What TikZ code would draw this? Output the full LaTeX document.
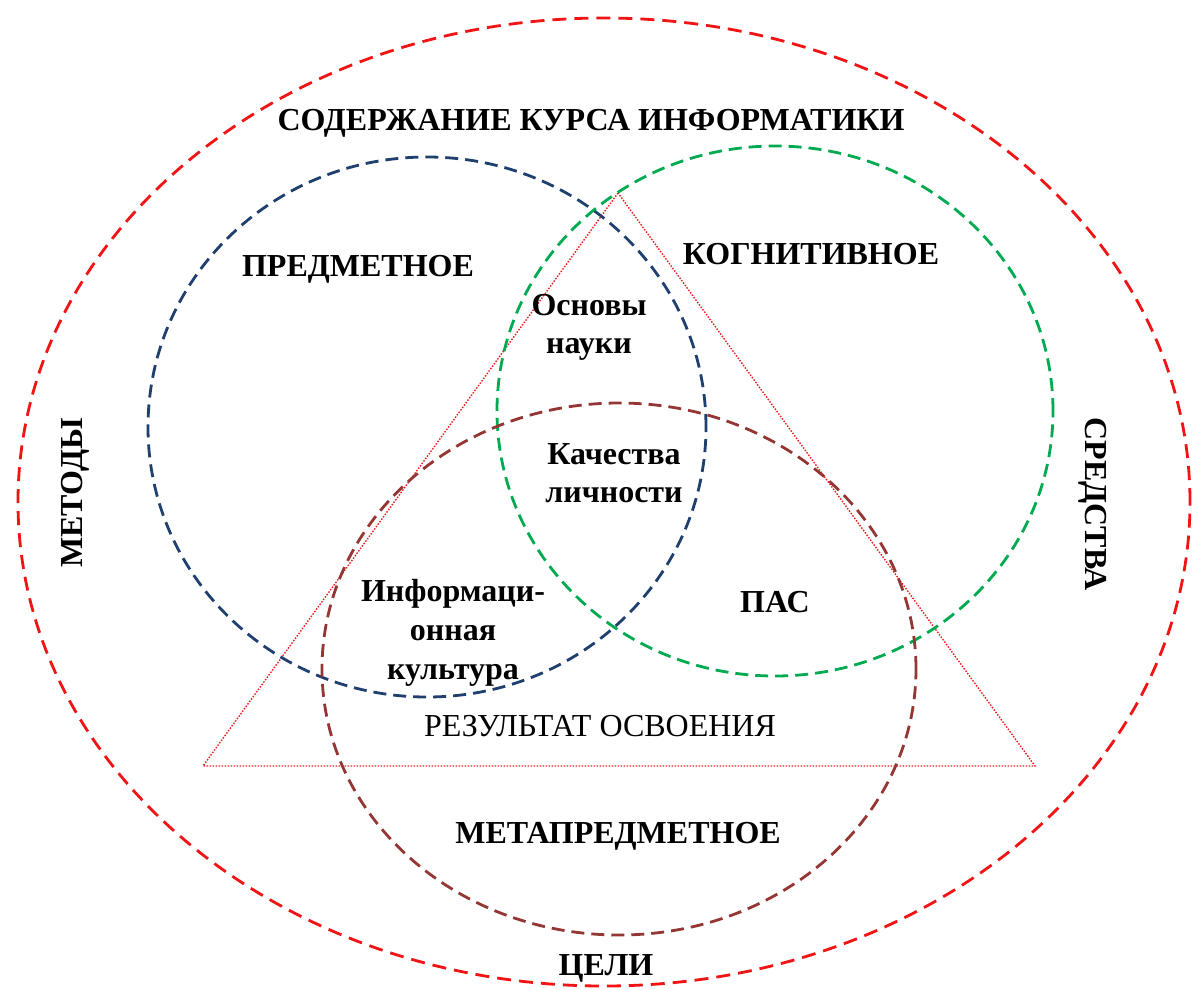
\documentclass[tikz,border=0pt]{standalone}
\usepackage{fontspec}
\setmainfont{Liberation Serif}
\definecolor{cred}{RGB}{240,20,20}
\definecolor{cblue}{RGB}{31,63,110}
\definecolor{cgreen}{RGB}{0,170,80}
\definecolor{cbrown}{RGB}{148,54,52}
\definecolor{ctri}{RGB}{235,30,30}
\tikzset{
  ring/.style={line width=2.8pt, dash pattern=on 13pt off 7pt},
  big/.style={font=\fontsize{32}{38}\selectfont\bfseries, align=center, inner sep=0pt},
  plain/.style={font=\fontsize{32}{38}\selectfont, align=center, inner sep=0pt},
  tri/.style={ctri, line width=1.4pt, dash pattern=on 1.5pt off 1.5pt}
}
\begin{document}
\begin{tikzpicture}[x=1pt,y=-1pt]
\useasboundingbox[fill=white] (0,0) rectangle (1192,989);
% outer ellipse
\draw[ring, cred, dash pattern=on 14pt off 8pt] (604,502) ellipse [x radius=586pt, y radius=484pt];
% triangle
\coordinate (ta) at (618,193);
\coordinate (tl) at (203,766);
\coordinate (tr) at (1035,766);
\draw[tri] (ta) -- (tl) -- (tr) -- cycle;
% three circles
\draw[ring, cblue] (427,427) ellipse [x radius=279pt, y radius=270pt];
\draw[ring, cgreen] (775,411) ellipse [x radius=278pt, y radius=265pt];
\draw[ring, cbrown] (619,669) ellipse [x radius=297pt, y radius=266pt];
% labels
\node[big] (content) at (591,123) {СОДЕРЖАНИЕ КУРСА ИНФОРМАТИКИ};
\node[big] (subj) at (358,269) {ПРЕДМЕТНОЕ};
\node[big] (cogn) at (811,254) {КОГНИТИВНОЕ};
\node[big] (basics) at (589,327) {Основы\\науки};
\node[big] (qual) at (614,473) {Качества\\личности};
\node[big, font=\fontsize{32}{39}\selectfont\bfseries] (info) at (453,633) {Информаци-\\онная\\культура};
\node[big] (pas) at (775,602) {ПАС};
\node[plain] (res) at (600,726) {РЕЗУЛЬТАТ ОСВОЕНИЯ};
\node[big] (meta) at (618,836) {МЕТАПРЕДМЕТНОЕ};
\node[big] (goals) at (606,968) {ЦЕЛИ};
\node[big, rotate=90] (methods) at (75,493) {МЕТОДЫ};
\node[big, rotate=-90] (means) at (1093,504) {СРЕДСТВА};
\end{tikzpicture}
\end{document}
